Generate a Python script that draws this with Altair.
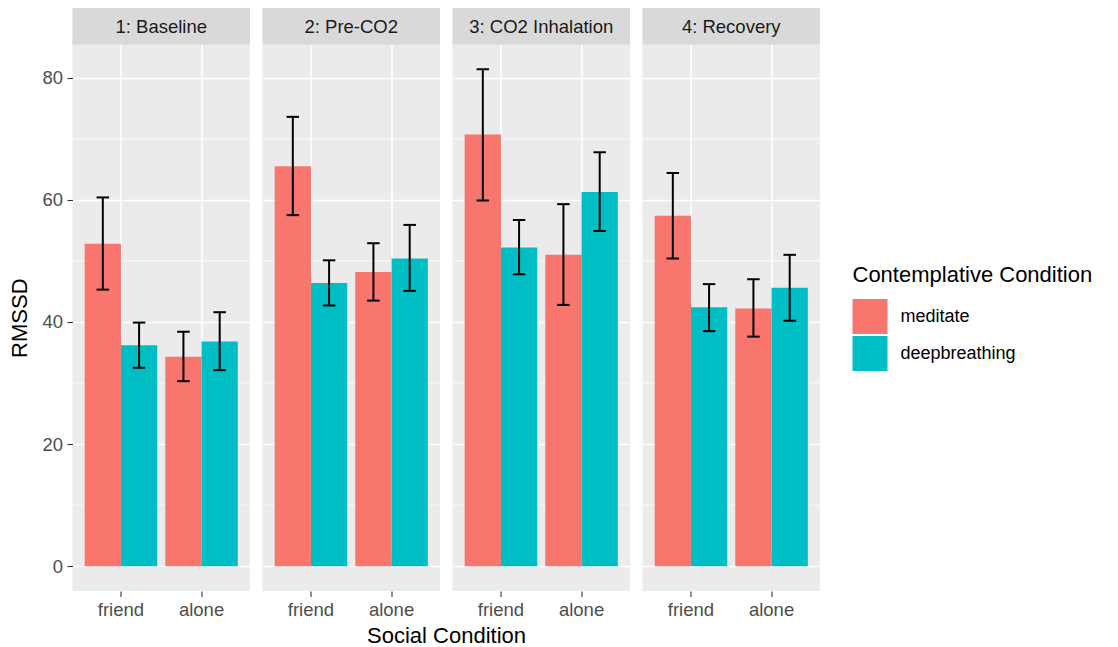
import altair as alt
import pandas as pd

# ---- data ----
stages = ["1: Baseline", "2: Pre-CO2", "3: CO2 Inhalation", "4: Recovery"]
social = ["friend", "alone"]
contemplative = ["meditate", "deepbreathing"]

# order within each stage: friend-meditate, friend-deepbreathing, alone-meditate, alone-deepbreathing
mean_vals = [
    [52.8, 36.2, 34.3, 36.8],
    [65.5, 46.4, 48.2, 50.4],
    [70.7, 52.2, 51.0, 61.3],
    [57.4, 42.4, 42.2, 45.6],
]
lower_vals = [
    [45.3, 32.5, 30.3, 32.1],
    [57.5, 42.7, 43.5, 45.1],
    [59.9, 47.8, 42.8, 54.9],
    [50.4, 38.5, 37.6, 40.2],
]
upper_vals = [
    [60.4, 39.9, 38.4, 41.6],
    [73.6, 50.1, 52.9, 55.9],
    [81.4, 56.7, 59.3, 67.8],
    [64.4, 46.2, 47.0, 51.0],
]
major_ticks = [0, 20, 40, 60, 80]
minor_ticks = [10, 30, 50, 70]
colors = ["#F8766D", "#00BFC4"]

rows = []
for si, st in enumerate(stages):
    k = 0
    for s in social:
        for c in contemplative:
            rows.append({"stage": st, "social": s, "contemplative": c,
                         "mean": mean_vals[si][k], "lower": lower_vals[si][k],
                         "upper": upper_vals[si][k]})
            k += 1
df = pd.DataFrame(rows)

# ---- layout / style ----
FONT = "Liberation Sans"
W = 177.5
STRIP = 36.4
H = 583.0
ymax = max(max(r) for r in upper_vals)
pad = 0.05 * ymax
yscale = alt.Scale(domain=[-pad, ymax + pad], range=[H, STRIP], nice=False, zero=False)


def panel(i, stage):
    d = df[df.stage == stage]
    if i == 1:
        xaxis = alt.Axis(title="Social Condition", titleX=(4 * W + 3 * 12) / 2 - (W + 12),
                         titleY=51.5, titleBaseline="alphabetic", titleAlign="center",
                         titleFontSize=22, titleFont=FONT, titleFontWeight="normal", titleColor="black",
                         grid=True, gridColor="white", gridWidth=1.6, bandPosition=0.5,
                         domain=False, tickSize=5.5, tickColor="#333333", tickWidth=1.1,
                         labelFontSize=18.5, labelFont=FONT, labelColor="#4D4D4D", labelPadding=4,
                         labelAngle=0)
    else:
        xaxis = alt.Axis(title=None, grid=True, gridColor="white", gridWidth=1.6, bandPosition=0.5,
                         domain=False, tickSize=5.5, tickColor="#333333", tickWidth=1.1,
                         labelFontSize=18.5, labelFont=FONT, labelColor="#4D4D4D", labelPadding=4,
                         labelAngle=0)
    if i == 0:
        yaxis = alt.Axis(title="RMSSD", values=major_ticks, grid=True, gridColor="white", gridWidth=1.6,
                         domain=False, tickSize=5.5, tickColor="#333333", tickWidth=1.1,
                         labelFontSize=18.5, labelFont=FONT, labelColor="#4D4D4D", labelPadding=4.5,
                         titleFontSize=22, titleFont=FONT, titleFontWeight="normal", titleColor="black",
                         titlePadding=10)
    else:
        yaxis = alt.Axis(title=None, values=major_ticks, grid=True, gridColor="white", gridWidth=1.6,
                         domain=False, ticks=False, labels=False)

    x = alt.X("social:N", sort=social,
              scale=alt.Scale(domain=social, paddingInner=0.1, paddingOuter=0.151), axis=xaxis)
    xo = alt.XOffset("contemplative:N", sort=contemplative,
                     scale=alt.Scale(domain=contemplative, paddingInner=0, paddingOuter=0))
    base = alt.Chart(d)

    minor = alt.Chart(alt.Data(values=[{"v": v} for v in minor_ticks])).mark_rule(
        color="white", strokeWidth=0.8).encode(y=alt.Y("v:Q", scale=yscale, axis=yaxis))

    bars = base.mark_bar().encode(
        x=x, xOffset=xo,
        y=alt.Y("mean:Q", scale=yscale, axis=yaxis),
        y2=alt.Y2(datum=0),
        color=alt.Color("contemplative:N", sort=contemplative,
                        scale=alt.Scale(domain=contemplative, range=colors),
                        legend=alt.Legend(title="Contemplative Condition", orient="none",
                                          legendX=780, legendY=257)),
    )
    err = base.mark_rule(color="black", strokeWidth=2).encode(
        x=x, xOffset=xo,
        y=alt.Y("lower:Q", scale=yscale, axis=yaxis), y2="upper:Q")
    cap_lo = base.mark_tick(color="black", size=12.5, thickness=2, opacity=1).encode(
        x=x, xOffset=xo, y=alt.Y("lower:Q", scale=yscale, axis=yaxis))
    cap_hi = base.mark_tick(color="black", size=12.5, thickness=2, opacity=1).encode(
        x=x, xOffset=xo, y=alt.Y("upper:Q", scale=yscale, axis=yaxis))

    strip_data = alt.Data(values=[{"label": stage}])
    strip_rect = alt.Chart(strip_data).mark_rect(color="#D9D9D9").encode(
        x=alt.value(0), x2=alt.value(W), y=alt.value(0), y2=alt.value(STRIP))
    strip_text = alt.Chart(strip_data).mark_text(
        font=FONT, fontSize=18.5, color="#1A1A1A", baseline="middle", align="center").encode(
        text="label:N", x=alt.value(W / 2), y=alt.value(STRIP / 2 + 1))

    return alt.layer(minor, bars, err, cap_lo, cap_hi, strip_rect, strip_text).properties(
        width=W, height=H)


panels = [panel(i, st) for i, st in enumerate(stages)]

chart = alt.hconcat(*panels, spacing=12, bounds="flush").resolve_scale(
    color="shared", x="independent", y="independent", xOffset="independent"
).properties(
    padding={"left": 0.5, "top": 0, "right": 5, "bottom": 0},
    background="white",
).configure_view(
    fill="#EBEBEB", stroke=None
).configure_legend(
    symbolType="square", symbolSize=1225, symbolStrokeWidth=0,
    labelFontSize=18, labelFont=FONT, labelColor="black", labelOffset=13,
    titleFontSize=22, titleFont=FONT, titleFontWeight="normal", titleColor="black",
    titleLimit=400, titlePadding=12, rowPadding=2, padding=0,
)

chart.save("out.html", embed_options={"renderer": "svg", "actions": False})
